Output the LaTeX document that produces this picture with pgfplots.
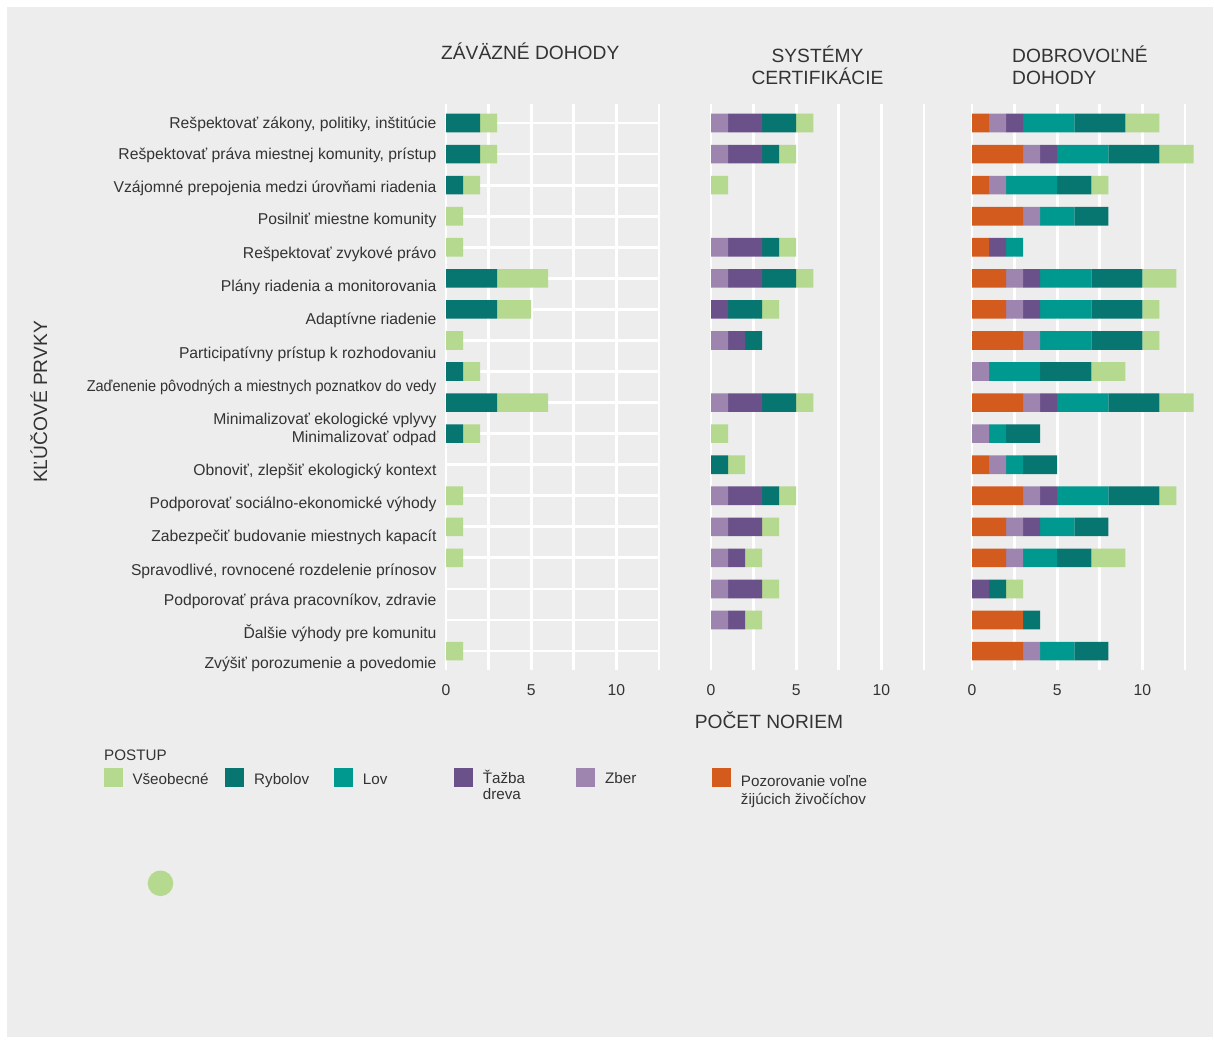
\documentclass[border=0pt]{standalone}
\usepackage{fontspec}
\setmainfont{Liberation Sans}
\usepackage{pgfplots}
\pgfplotsset{compat=1.18}
\usepackage{pgfplotstable}

\definecolor{cgen}{HTML}{B5D98E}
\definecolor{cryb}{HTML}{077570}
\definecolor{clov}{HTML}{00998F}
\definecolor{ctaz}{HTML}{6A518A}
\definecolor{czber}{HTML}{9D85B0}
\definecolor{corg}{HTML}{D35B1D}
\definecolor{bg}{HTML}{EDEDED}
\definecolor{txt}{HTML}{333333}

% columns: row, Pozorovanie, Zber, Tazba dreva, Lov, Rybolov, Vseobecne
\pgfplotstableread{
row org zber taz lov ryb gen
1 0 0 0 0 2 1
2 0 0 0 0 2 1
3 0 0 0 0 1 1
4 0 0 0 0 0 1
5 0 0 0 0 0 1
6 0 0 0 0 3 3
7 0 0 0 0 3 2
8 0 0 0 0 0 1
9 0 0 0 0 1 1
10 0 0 0 0 3 3
11 0 0 0 0 1 1
12 0 0 0 0 0 0
13 0 0 0 0 0 1
14 0 0 0 0 0 1
15 0 0 0 0 0 1
16 0 0 0 0 0 0
17 0 0 0 0 0 0
18 0 0 0 0 0 1
}\tabA

\pgfplotstableread{
row org zber taz lov ryb gen
1 0 1 2 0 2 1
2 0 1 2 0 1 1
3 0 0 0 0 0 1
4 0 0 0 0 0 0
5 0 1 2 0 1 1
6 0 1 2 0 2 1
7 0 0 1 0 2 1
8 0 1 1 0 1 0
9 0 0 0 0 0 0
10 0 1 2 0 2 1
11 0 0 0 0 0 1
12 0 0 0 0 1 1
13 0 1 2 0 1 1
14 0 1 2 0 0 1
15 0 1 1 0 0 1
16 0 1 2 0 0 1
17 0 1 1 0 0 1
18 0 0 0 0 0 0
}\tabB

\pgfplotstableread{
row org zber taz lov ryb gen
1 1 1 1 3 3 2
2 3 1 1 3 3 2
3 1 1 0 3 2 1
4 3 1 0 2 2 0
5 1 0 1 1 0 0
6 2 1 1 3 3 2
7 2 1 1 3 3 1
8 3 1 0 3 3 1
9 0 1 0 3 3 2
10 3 1 1 3 3 2
11 0 1 0 1 2 0
12 1 1 0 1 2 0
13 3 1 1 3 3 1
14 2 1 1 2 2 0
15 2 1 0 2 2 2
16 0 0 1 0 1 1
17 3 0 0 0 1 0
18 3 1 0 2 2 0
}\tabC

\pgfplotsset{
  panel/.style={
    scale only axis, width=213pt, height=565.3pt,
    anchor=south west,
    xmin=0, xmax=12.5, ymin=0.4, ymax=18.6, y dir=reverse,
    clip=false,
    xbar stacked, bar width=0.6,
    axis line style={draw=none},
    major tick length=0pt, minor tick length=0pt,
    xtick={0,5,10}, minor xtick={2.5,7.5,12.5},
    xmajorgrids, xminorgrids,
    minor ytick={1,...,18}, yminorgrids,
    major grid style={white, line width=2.8pt},
    minor grid style={white, line width=2.8pt},
    /pgf/number format/assume math mode=true,
    xticklabel style={font=\fontsize{15.7}{18}\selectfont, text=txt, yshift=-11pt},
  },
}

\newcommand{\stackbars}[1]{%
  \addplot[fill=corg, draw=none] table[x=org, y=row]{#1};
  \addplot[fill=czber, draw=none] table[x=zber, y=row]{#1};
  \addplot[fill=ctaz, draw=none] table[x=taz, y=row]{#1};
  \addplot[fill=clov, draw=none] table[x=lov, y=row]{#1};
  \addplot[fill=cryb, draw=none] table[x=ryb, y=row]{#1};
  \addplot[fill=cgen, draw=none] table[x=gen, y=row]{#1};
}

\begin{document}
\begin{tikzpicture}[x=1pt,y=1pt]
\fill[white] (0,0) rectangle (1214,1039);
\fill[bg] (7,2) rectangle (1213,1032);

\begin{axis}[panel, at={(446pt,369.3pt)},
  ytick={0.99,1.98,3.05,4.10,5.18,6.23,7.32,8.40,9.47,10.51,11.12,12.17,13.24,14.30,15.39,16.36,17.38,18.38},
  yticklabels={{Rešpektovať zákony, politiky, inštitúcie},
    {Rešpektovať práva miestnej komunity, prístup},
    {Vzájomné prepojenia medzi úrovňami riadenia},
    {Posilniť miestne komunity},
    {Rešpektovať zvykové právo},
    {Plány riadenia a monitorovania},
    {Adaptívne riadenie},
    {Participatívny prístup k rozhodovaniu},
    {\scalebox{0.923}[1]{Zaďenenie pôvodných a miestnych poznatkov do vedy}},
    {Minimalizovať ekologické vplyvy},
    {Minimalizovať odpad},
    {Obnoviť, zlepšiť ekologický kontext},
    {Podporovať sociálno-ekonomické výhody},
    {Zabezpečiť budovanie miestnych kapacít},
    {Spravodlivé, rovnocené rozdelenie prínosov},
    {Podporovať práva pracovníkov, zdravie},
    {Ďalšie výhody pre komunitu},
    {Zvýšiť porozumenie a povedomie}},
  yticklabel style={font=\fontsize{15.7}{18}\selectfont, text=txt, anchor=east, xshift=-6pt, yshift=-1.5pt},
]
\stackbars{\tabA}
\end{axis}

\begin{axis}[panel, at={(711pt,369.3pt)}, ytick=\empty]
\stackbars{\tabB}
\end{axis}

\begin{axis}[panel, at={(972pt,369.3pt)}, ytick=\empty]
\stackbars{\tabC}
\end{axis}

% panel titles
\begin{scope}[every node/.style={inner sep=0pt, text=txt, font=\fontsize{19.2}{23}\selectfont}]
\node[anchor=base west] at (441,979) {ZÁVÄZNÉ DOHODY};
\node[anchor=base] at (817.5,976.5) {SYSTÉMY};
\node[anchor=base] at (817.5,954) {CERTIFIKÁCIE};
\node[anchor=base west] at (1012,976.5) {DOBROVOĽNÉ};
\node[anchor=base west] at (1012,954) {DOHODY};
\node[anchor=base] at (769,311) {POČET NORIEM};
\node[anchor=base, rotate=90] at (47,637) {KĽÚČOVÉ PRVKY};
\end{scope}

% legend
\begin{scope}[every node/.style={inner sep=0pt, text=txt, font=\fontsize{15.2}{16}\selectfont, anchor=base west}]
\node at (104,279) {POSTUP};
\fill[cgen] (104,252) rectangle (123,271);
\node at (132.3,255) {Všeobecné};
\fill[cryb] (225,252) rectangle (244,271);
\node at (254,255) {Rybolov};
\fill[clov] (334,252) rectangle (353,271);
\node at (362.7,255) {Lov};
\fill[ctaz] (454,252) rectangle (473,271);
\node at (482.7,256) {Ťažba};
\node at (482.7,240) {dreva};
\fill[czber] (576,252) rectangle (595,271);
\node at (605,256) {Zber};
\fill[corg] (712,252) rectangle (731,271);
\node at (740.7,252.5) {Pozorovanie voľne};
\node at (740.7,235) {žijúcich živočíchov};
\end{scope}

\fill[cgen] (160.5,155.7) circle (12.8);
\end{tikzpicture}
\end{document}
